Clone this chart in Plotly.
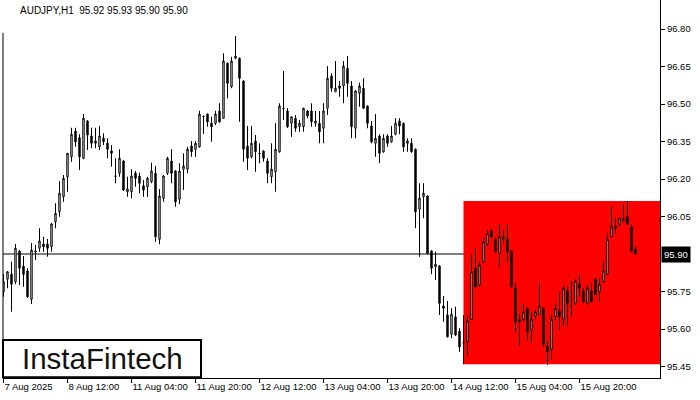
import plotly.graph_objects as go

# ---- data (AUDJPY, H1) ----
symbol_title = "AUDJPY,H1"
last_ohlc = ["95.92", "95.93", "95.90", "95.90"]

opens = [95.749, 95.799, 95.819, 95.789, 95.912, 95.851, 95.832, 95.719, 95.908, 95.923,
         95.940, 95.940, 95.929, 96.029, 96.069, 96.129, 96.209, 96.289, 96.392, 96.365,
         96.283, 96.432, 96.372, 96.352, 96.329, 96.363, 96.343, 96.313, 96.212, 96.223,
         96.272, 96.149, 96.149, 96.223, 96.212, 96.173, 96.169, 96.189, 96.223, 95.959,
         96.123, 96.223, 96.272, 96.232, 96.119, 96.239, 96.239, 96.332, 96.319, 96.329,
         96.451, 96.460, 96.423, 96.423, 96.472, 96.443, 96.663, 96.569, 96.683, 96.683,
         96.592, 96.332, 96.289, 96.352, 96.303, 96.312, 96.272, 96.209, 96.229, 96.309,
         96.483, 96.472, 96.423, 96.443, 96.409, 96.409, 96.472, 96.472, 96.423, 96.423,
         96.403, 96.483, 96.612, 96.549, 96.572, 96.572, 96.643, 96.572, 96.403, 96.543,
         96.563, 96.492, 96.412, 96.343, 96.372, 96.309, 96.372, 96.349, 96.379, 96.432,
         96.423, 96.343, 96.343, 96.319, 96.079, 96.129, 96.132, 95.912, 95.849, 95.852,
         95.692, 95.656, 95.579, 95.649, 95.592, 95.545, 95.549, 95.639, 95.843, 95.776,
         95.869, 95.939, 95.992, 95.959, 95.903, 95.960, 95.959, 95.912, 95.763, 95.639,
         95.639, 95.683, 95.599, 95.652, 95.659, 95.683, 95.532, 95.519, 95.649, 95.672,
         95.639, 95.752, 95.692, 95.703, 95.779, 95.752, 95.703, 95.752, 95.799, 95.749,
         95.789, 95.819, 95.969, 96.003, 96.019, 96.032, 96.049, 96.009, 95.920]

highs = [95.820, 95.832, 95.869, 95.940, 95.916, 95.892, 95.843, 95.944, 95.936, 96.003,
         95.969, 95.960, 96.024, 96.103, 96.192, 96.216, 96.304, 96.405, 96.405, 96.379,
         96.460, 96.436, 96.405, 96.405, 96.412, 96.383, 96.363, 96.336, 96.283, 96.319,
         96.276, 96.209, 96.239, 96.232, 96.225, 96.196, 96.209, 96.265, 96.252, 96.160,
         96.216, 96.289, 96.319, 96.236, 96.263, 96.303, 96.329, 96.352, 96.352, 96.473,
         96.455, 96.462, 96.449, 96.473, 96.503, 96.703, 96.667, 96.689, 96.772, 96.686,
         96.595, 96.412, 96.412, 96.376, 96.343, 96.316, 96.283, 96.343, 96.423, 96.503,
         96.632, 96.484, 96.452, 96.456, 96.436, 96.485, 96.476, 96.503, 96.472, 96.472,
         96.503, 96.652, 96.623, 96.672, 96.592, 96.672, 96.692, 96.592, 96.555, 96.585,
         96.603, 96.495, 96.432, 96.460, 96.379, 96.379, 96.379, 96.412, 96.443, 96.443,
         96.426, 96.363, 96.363, 96.322, 96.183, 96.183, 96.135, 95.915, 95.909, 95.855,
         95.732, 95.712, 95.683, 95.689, 95.603, 95.656, 95.656, 95.899, 95.923, 95.869,
         95.965, 95.996, 95.999, 95.962, 96.019, 95.996, 96.019, 95.915, 95.783, 95.659,
         95.703, 95.686, 95.669, 95.679, 95.789, 95.686, 95.552, 95.659, 95.703, 95.749,
         95.772, 95.769, 95.792, 95.799, 95.819, 95.763, 95.776, 95.783, 95.803, 95.803,
         95.872, 95.985, 96.092, 96.045, 96.045, 96.099, 96.112, 96.019, 95.930]

lows = [95.729, 95.763, 95.669, 95.779, 95.776, 95.769, 95.724, 95.700, 95.876, 95.909,
        95.909, 95.889, 95.909, 96.003, 96.049, 96.109, 96.149, 96.269, 96.329, 96.236,
        96.279, 96.316, 96.323, 96.323, 96.316, 96.336, 96.283, 96.249, 96.183, 96.209,
        96.152, 96.129, 96.123, 96.169, 96.143, 96.129, 96.129, 96.183, 95.949, 95.939,
        96.109, 96.216, 96.183, 96.089, 96.099, 96.156, 96.223, 96.289, 96.289, 96.325,
        96.380, 96.409, 96.349, 96.416, 96.425, 96.440, 96.523, 96.563, 96.679, 96.429,
        96.269, 96.236, 96.283, 96.229, 96.263, 96.269, 96.183, 96.183, 96.149, 96.305,
        96.436, 96.404, 96.369, 96.389, 96.389, 96.389, 96.443, 96.409, 96.409, 96.343,
        96.343, 96.456, 96.549, 96.549, 96.529, 96.503, 96.529, 96.363, 96.363, 96.489,
        96.480, 96.403, 96.343, 96.289, 96.263, 96.305, 96.329, 96.345, 96.375, 96.379,
        96.309, 96.309, 96.305, 96.003, 95.889, 96.043, 95.899, 95.819, 95.796, 95.656,
        95.629, 95.566, 95.563, 95.572, 95.509, 95.459, 95.496, 95.636, 95.766, 95.769,
        95.863, 95.932, 95.965, 95.905, 95.849, 95.943, 95.869, 95.766, 95.589, 95.532,
        95.629, 95.556, 95.543, 95.639, 95.656, 95.529, 95.456, 95.476, 95.636, 95.596,
        95.612, 95.609, 95.649, 95.696, 95.729, 95.703, 95.696, 95.705, 95.736, 95.709,
        95.785, 95.815, 95.965, 95.983, 96.009, 96.029, 96.016, 95.907, 95.900]

closes = [95.789, 95.829, 95.779, 95.923, 95.843, 95.819, 95.729, 95.916, 95.912, 95.952,
          95.929, 95.923, 96.020, 96.063, 96.143, 96.203, 96.303, 96.379, 96.349, 96.289,
          96.443, 96.376, 96.343, 96.343, 96.372, 96.349, 96.319, 96.303, 96.211, 96.283,
          96.156, 96.160, 96.212, 96.203, 96.183, 96.156, 96.203, 96.232, 95.969, 96.132,
          96.212, 96.283, 96.223, 96.109, 96.232, 96.252, 96.319, 96.309, 96.343, 96.460,
          96.450, 96.429, 96.409, 96.460, 96.429, 96.672, 96.583, 96.672, 96.692, 96.603,
          96.319, 96.283, 96.343, 96.309, 96.302, 96.283, 96.223, 96.240, 96.319, 96.492,
          96.482, 96.409, 96.449, 96.403, 96.423, 96.483, 96.452, 96.429, 96.432, 96.389,
          96.472, 96.603, 96.563, 96.563, 96.563, 96.652, 96.583, 96.409, 96.552, 96.572,
          96.483, 96.423, 96.349, 96.363, 96.303, 96.363, 96.343, 96.372, 96.423, 96.412,
          96.329, 96.352, 96.309, 96.069, 96.123, 96.143, 95.903, 95.843, 95.859, 95.703,
          95.683, 95.569, 95.659, 95.576, 95.529, 95.544, 95.632, 95.829, 95.769, 95.856,
          95.949, 95.983, 95.969, 95.909, 95.969, 95.969, 95.909, 95.769, 95.629, 95.629,
          95.669, 95.589, 95.639, 95.669, 95.692, 95.539, 95.509, 95.639, 95.683, 95.649,
          95.763, 95.703, 95.691, 95.792, 95.763, 95.709, 95.763, 95.709, 95.739, 95.779,
          95.832, 95.959, 96.009, 96.012, 96.043, 96.043, 96.019, 95.909, 95.900]

bars = list(range(len(closes)))

x_tick_bars = [0, 16, 32, 48, 64, 80, 96, 112, 128, 144]
x_tick_labels = ["7 Aug 2025", "8 Aug 12:00", "11 Aug 04:00", "11 Aug 20:00", "12 Aug 12:00",
                 "13 Aug 04:00", "13 Aug 20:00", "14 Aug 12:00", "15 Aug 04:00", "15 Aug 20:00"]
y_ticks = [95.45, 95.60, 95.75, 96.05, 96.20, 96.35, 96.50, 96.65, 96.80]

current_price = 95.90
zone_start_bar = 115
zone_top = 96.112
zone_bottom = 95.459
brand = "InstaFintech"

FONT = "Liberation Sans, Arial, sans-serif"

fig = go.Figure()
fig.add_trace(go.Candlestick(
    x=bars, open=opens, high=highs, low=lows, close=closes,
    increasing=dict(fillcolor="white", line=dict(color="black", width=1)),
    decreasing=dict(fillcolor="black", line=dict(color="black", width=1)),
    whiskerwidth=0, hoverinfo="skip",
))

fig.update_layout(
    width=700, height=400,
    margin=dict(l=3, r=40, t=0, b=22),
    paper_bgcolor="white", plot_bgcolor="white",
    showlegend=False, boxgap=0.5,
    font=dict(family=FONT, size=10, color="black"),
    xaxis=dict(range=[-0.125, 164.125], showline=True, linecolor="black", linewidth=1,
               ticks="outside", ticklen=4, tickcolor="black", tickvals=x_tick_bars,
               ticktext=x_tick_labels, ticklabelposition="outside right", tickangle=0,
               tickfont=dict(family=FONT, size=9.5, color="black"),
               showgrid=False, zeroline=False, rangeslider=dict(visible=False),
               fixedrange=True, automargin=False),
    yaxis=dict(side="right", range=[95.404, 96.916], showline=True, linecolor="black",
               linewidth=1, ticks="outside", ticklen=4, tickcolor="black",
               tickvals=y_ticks, tickformat=".2f",
               tickfont=dict(family=FONT, size=9.5, color="black"),
               showgrid=False, zeroline=False, fixedrange=True, automargin=False),
)

fig.add_shape(type="rect", xref="x", yref="y", x0=zone_start_bar, x1=164.125,
              y0=zone_bottom, y1=zone_top, fillcolor="#ff0000", line=dict(width=0), layer="below")
fig.add_shape(type="line", xref="paper", yref="y", x0=0, x1=1, y0=current_price, y1=current_price,
              line=dict(color="black", width=1), layer="below")
fig.add_shape(type="line", xref="paper", yref="paper", x0=0, x1=0, y0=0, y1=0.913,
              line=dict(color="black", width=1))
fig.add_shape(type="rect", xref="paper", yref="paper", x0=0, x1=0.3014, y0=0.002, y1=0.1005,
              fillcolor="white", line=dict(color="black", width=2), layer="above")

fig.add_annotation(xref="paper", yref="paper", x=0.0228, y=0.971, xanchor="left", yanchor="middle",
                   text=symbol_title + "\u00a0\u00a0" + "\u00a0".join(last_ohlc), showarrow=False,
                   font=dict(family=FONT, size=10, color="black"))
fig.add_annotation(xref="paper", yref="paper", x=0.1514, y=0.052, xanchor="center", yanchor="middle",
                   text=brand, showarrow=False, font=dict(family=FONT, size=29.5, color="#111111"))
fig.add_annotation(xref="paper", yref="y", x=1, y=current_price, xanchor="left", yanchor="middle",
                   xshift=1, text=f"{current_price:.2f}", showarrow=False, bgcolor="black",
                   borderpad=2, font=dict(family=FONT, size=9.5, color="white"))

fig.write_html("out.html", config={"displayModeBar": False},
               post_script="document.body.style.margin='0';document.body.style.padding='0';")
